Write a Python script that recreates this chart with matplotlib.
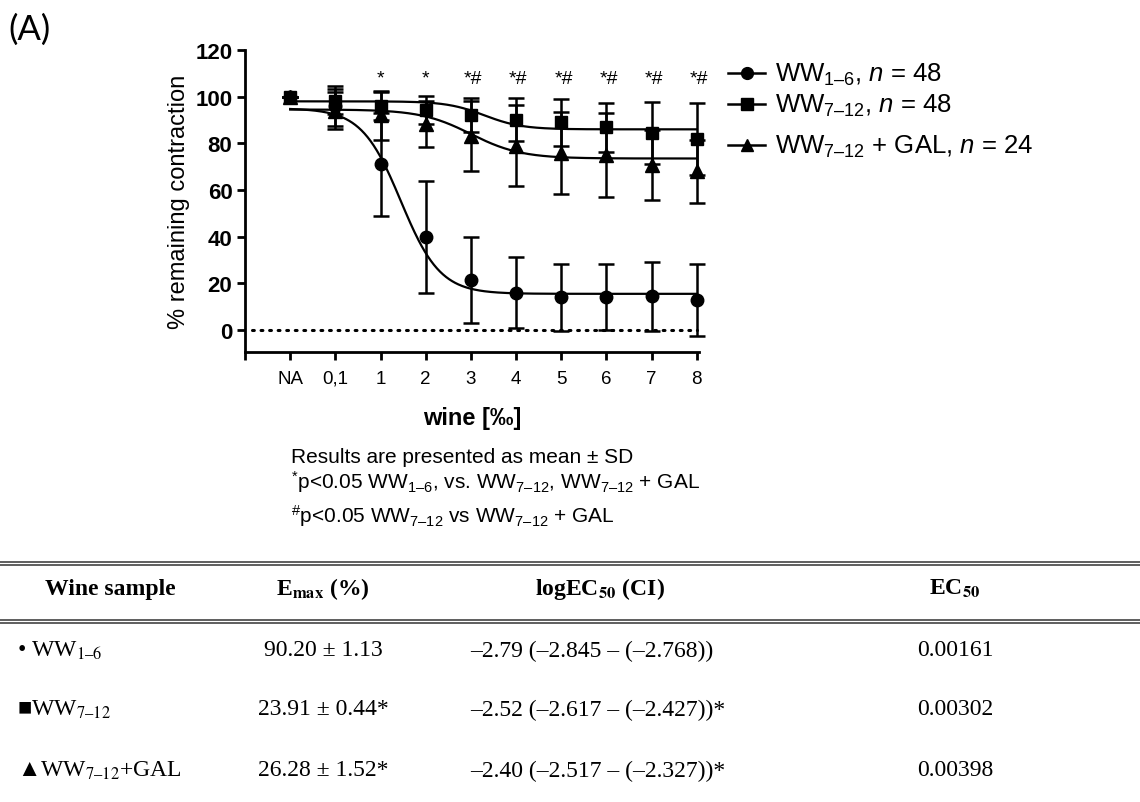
import numpy as np
import matplotlib
matplotlib.use("Agg")
import matplotlib.pyplot as plt
from matplotlib.lines import Line2D

plt.rcParams['font.family'] = ['Liberation Sans', 'DejaVu Sans']
plt.rcParams['mathtext.fontset'] = 'custom'
plt.rcParams['mathtext.rm'] = 'Liberation Sans'
plt.rcParams['mathtext.it'] = 'Liberation Sans:italic'
plt.rcParams['mathtext.bf'] = 'Liberation Sans:bold'

# ---------------- data ----------------
x_labels = ['NA', '0,1', '1', '2', '3', '4', '5', '6', '7', '8']

ww16_mean = [100, 96, 71, 40, 21.5, 16, 14, 14, 14.5, 13]
ww16_sd = [0, 8.5, 22, 24, 18.5, 15.3, 14.5, 14.2, 14.8, 15.5]

ww712_mean = [100, 98, 96, 94.4, 92, 90.2, 89, 87, 84.5, 82]
ww712_sd = [0, 5.5, 6.2, 6, 7.3, 9.2, 10, 10.5, 13.2, 15.5]

gal_mean = [100, 94, 92, 88.3, 83.3, 79, 76, 75, 70.7, 68]
gal_sd = [0, 8, 10.5, 10, 15, 17.3, 17.5, 18, 15, 13.6]

# sigmoidal fit parameters (top, bottom, midpoint on category axis, slope)
fit_ww16 = [95, 15.5, 2.45, 2.3]
fit_ww712 = [98, 86, 4.3, 2.4]
fit_gal = [94.5, 73.5, 4.0, 1.8]

sig_labels = ['', '', '*', '*', '*#', '*#', '*#', '*#', '*#', '*#']

legend_labels = ['WW$_{1\u20136}$, $n$ = 48',
                 'WW$_{7\u201312}$, $n$ = 48',
                 'WW$_{7\u201312}$ + GAL, $n$ = 24']
legend_markers = ['o', 's', '^']

table_header = ['Wine sample', 'E$_{\\mathbf{max}}$ (%)',
                'logEC$_{\\mathbf{50}}$ (CI)', 'EC$_{\\mathbf{50}}$']
table_samples = ['\u2022 WW$_{1\u20136}$', '\u25a0WW$_{7\u201312}$',
                 '\u25b2WW$_{7\u201312}$+GAL']
table_emax = ['90.20 \u00b1 1.13', '23.91 \u00b1 0.44*', '26.28 \u00b1 1.52*']
table_logec = ['\u20132.79 (\u20132.845 \u2013 (\u20132.768))',
               '\u20132.52 (\u20132.617 \u2013 (\u20132.427))*',
               '\u20132.40 (\u20132.517 \u2013 (\u20132.327))*']
table_ec50 = ['0.00161', '0.00302', '0.00398']

# ---------------- figure ----------------
W, H = 1140, 803
fig = plt.figure(figsize=(W / 100, H / 100), dpi=100)
ax = fig.add_axes([245 / W, 1 - 352.7 / H, 454 / W, 301.7 / H])

xs = np.arange(len(x_labels))
xc = np.linspace(0, len(x_labels) - 1, 400)


def sigm(p, x):
    top, bot, x50, k = p
    return bot + (top - bot) / (1 + np.exp((x - x50) * k))


# zero dotted line
ax.plot([-0.85, 9.0], [0, 0], color='black', lw=2.2, ls=(0, (0.6, 2.2)),
        dash_capstyle='round', zorder=1)

marker_size = {'o': 9, '^': 9.5, 's': 8.5}
series = [
    (ww16_mean, ww16_sd, fit_ww16, 'o'),
    (gal_mean, gal_sd, fit_gal, '^'),
    (ww712_mean, ww712_sd, fit_ww712, 's'),
]
for mean, sd, fit, mk in series:
    ax.plot(xc, sigm(fit, xc), color='black', lw=1.6, zorder=2)
    eb = ax.errorbar(xs, mean, yerr=sd, fmt=mk, color='black',
                     ms=marker_size[mk], elinewidth=1.8, capsize=5.5,
                     capthick=1.8, zorder=3)
    for a in eb.get_children():
        a.set_clip_on(False)

# significance markers
for x, s in zip(xs, sig_labels):
    if s:
        ax.text(x + (0.05 if s == '*#' else 0), 108, s, ha='center',
                va='center', fontsize=14)

ax.set_xlim(-1, 9.05)
ax.set_ylim(-9.3, 120)
ax.set_yticks(np.arange(0, 121, 20))
ax.set_xticks([-1] + list(xs))
ax.set_xticklabels([''] + x_labels, fontsize=13.5)
for t in ax.get_yticklabels():
    t.set_fontweight('bold')
    t.set_fontsize(16)
ax.spines['top'].set_visible(False)
ax.spines['right'].set_visible(False)
for sp in ['left', 'bottom']:
    ax.spines[sp].set_linewidth(2)
ax.tick_params(axis='both', width=2, length=6, direction='out', pad=3)
ax.tick_params(axis='x', pad=7)
ax.set_ylabel('% remaining contraction', fontsize=17, labelpad=4)
ax.set_xlabel('wine [\u2030]', fontsize=17, fontweight='bold', labelpad=14)

# legend (one row per series)
legend_y = [74, 105, 146]
for mk, lab, y in zip(legend_markers, legend_labels, legend_y):
    fig.add_artist(Line2D([728 / W, 765 / W], [1 - y / H, 1 - y / H],
                          color='black', lw=1.8, transform=fig.transFigure))
    fig.add_artist(Line2D([746.5 / W], [1 - y / H], color='black',
                          marker=mk, ms=marker_size[mk] - 0.5,
                          transform=fig.transFigure))
    fig.text(775 / W, 1 - (y + 7.5) / H, lab, fontsize=18.5, ha='left',
             va='baseline')

# panel label
fig.text(8 / W, 1 - 30 / H, '(A)', fontsize=25, ha='left', va='center',
         family=['Lato', 'Liberation Sans'])

# footnotes
fig.text(291 / W, 1 - 458 / H, 'Results are presented as mean \u00b1 SD',
         fontsize=15, ha='left', va='center')
fig.text(291 / W, 1 - 482 / H,
         '$^{*}$p<0.05 WW$_{1\u20136}$, vs. WW$_{7\u201312}$, WW$_{7\u201312}$ + GAL',
         fontsize=15, ha='left', va='center')
fig.text(291 / W, 1 - 516 / H,
         '$^{\\#}$p<0.05 WW$_{7\u201312}$ vs WW$_{7\u201312}$ + GAL',
         fontsize=15, ha='left', va='center')

# table rules
for yy in [562.7, 565.6, 620.7, 623.6]:
    fig.add_artist(Line2D([0, 1], [1 - yy / H, 1 - yy / H], color='#333333',
                          lw=1.1, transform=fig.transFigure))

serif = ['Liberation Serif', 'DejaVu Serif']
col_x = [110, 323, 600, 955]
for x, t in zip(col_x, table_header):
    fig.text(x / W, 1 - 589 / H, t, ha='center', va='center', fontsize=17,
             fontweight='bold', family=serif, math_fontfamily='stix')

row_y = [651, 710, 771]
for i, y in enumerate(row_y):
    fig.text(17 / W, 1 - y / H, table_samples[i], ha='left', va='center',
             fontsize=17, family=serif, math_fontfamily='stix')
    fig.text(323 / W, 1 - y / H, table_emax[i], ha='center', va='center',
             fontsize=17, family=serif, math_fontfamily='stix')
    fig.text(470 / W, 1 - y / H, table_logec[i], ha='left', va='center',
             fontsize=17, family=serif, math_fontfamily='stix')
    fig.text(955 / W, 1 - y / H, table_ec50[i], ha='center', va='center',
             fontsize=17, family=serif, math_fontfamily='stix')

fig.savefig('out.png', dpi=100)
